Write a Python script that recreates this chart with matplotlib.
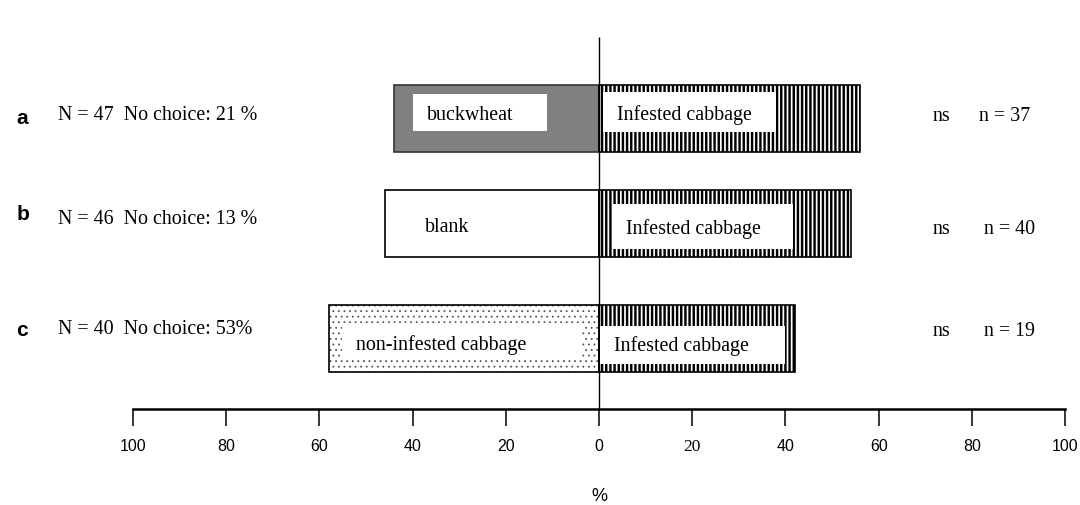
import matplotlib.pyplot as plt
from matplotlib.patches import Rectangle

# choice test results: % of responding insects choosing each side
rows = ['a', 'b', 'c']
info_labels = ['N = 47  No choice: 21 %', 'N = 46  No choice: 13 %', 'N = 40  No choice: 53%']
left_names = ['buckwheat', 'blank', 'non-infested cabbage']
right_name = 'Infested cabbage'
left_pct = [44, 46, 58]
right_pct = [56, 54, 42]
n_resp = [37, 40, 19]
signif = ['ns', 'ns', 'ns']
ticks = list(range(-100, 101, 20))

# layout (y in pixel rows, label boxes in % units)
row_y = [119, 224, 339]
bar_h = 67
left_box = [(-39.9, 28.8, 95, 132), None, (-55.2, 51.5, 324, 361)]
right_box = [(0.9, 37.1, 93, 133), (2.8, 38.8, 205, 250), (0.2, 39.7, 327, 365)]
blank_text_x = -37.3
text_y = [[115, 115], [228, 229], [345, 346]]
letter_y = [118, 214, 331]
info_y = [115, 219, 330]
right_txt_y = [116, 230, 331]
n_x = [81.5, 82.5, 82.5]

serif = 'Liberation Serif'
sans = 'Liberation Sans'
narrow = ['Liberation Sans Narrow', 'Liberation Sans']
plt.rcParams['hatch.linewidth'] = 1.75

fig = plt.figure(figsize=(10.8, 5.06), dpi=100)
ax = fig.add_axes([0, 0, 1, 1])
ax.set_xlim(-128.5, 103.2)
ax.set_ylim(506, 0)

# left bars
ax.barh(row_y[0], -left_pct[0], height=bar_h, color='#808080', edgecolor='#333333', linewidth=1.2)
ax.barh(row_y[1], -left_pct[1], height=bar_h, color='white', edgecolor='black', linewidth=1.2)
with plt.rc_context({'hatch.linewidth': 0.6}):
    ax.barh(row_y[2], -left_pct[2], height=bar_h, color='white', edgecolor='#555555', hatch='...', linewidth=0)
ax.barh(row_y[2], -left_pct[2], height=bar_h, fill=False, edgecolor='black', linewidth=1.2)

# right bars (infested cabbage), striped
ax.barh(row_y, right_pct, height=bar_h, color='white', edgecolor='black', hatch='||||', linewidth=1.2)

# white label boxes inside the bars
for i in range(3):
    for box in (left_box[i], right_box[i]):
        if box is None:
            continue
        x0, w, top, bot = box
        ax.add_patch(Rectangle((x0, top), w, bot - top, facecolor='white', edgecolor='none', zorder=3))

for i in range(3):
    lx = left_box[i][0] + 3 if left_box[i] else blank_text_x
    ax.text(lx, text_y[i][0], left_names[i], family=serif, fontsize=14.4, va='center', ha='left', zorder=4)
    ax.text(right_box[i][0] + 3, text_y[i][1], right_name, family=serif, fontsize=14.4, va='center', ha='left', zorder=4)

    ax.text(-125, letter_y[i], rows[i], family=sans, fontweight='bold', fontsize=15, va='center', ha='left')
    ax.text(-116, info_y[i], info_labels[i], family=serif, fontsize=14.4, va='center', ha='left')
    ax.text(71.5, right_txt_y[i], signif[i], family=serif, fontsize=14.4, va='center', ha='left')
    ax.text(n_x[i], right_txt_y[i], 'n = %d' % n_resp[i], family=serif, fontsize=14.4, va='center', ha='left')

# centre line and percentage axis
ax.vlines(0, 38, 410, color='black', linewidth=1)
for s in ['top', 'left', 'right']:
    ax.spines[s].set_visible(False)
ax.spines['bottom'].set_position(('data', 410))
ax.spines['bottom'].set_bounds(-100, 100)
ax.spines['bottom'].set_linewidth(1.8)
ax.set_yticks([])
ax.set_xticks(ticks)
ax.set_xticklabels([str(abs(t)) for t in ticks], family=narrow, fontsize=11.5)
ax.get_xticklabels()[6].set_family(serif)
ax.get_xticklabels()[6].set_fontsize(12.5)
ax.tick_params(axis='x', direction='out', length=12, width=1.1, pad=9)
ax.text(0, 497, '%', family=sans, fontsize=13, ha='center', va='center')

fig.savefig('out.png', dpi=100, facecolor='white')
